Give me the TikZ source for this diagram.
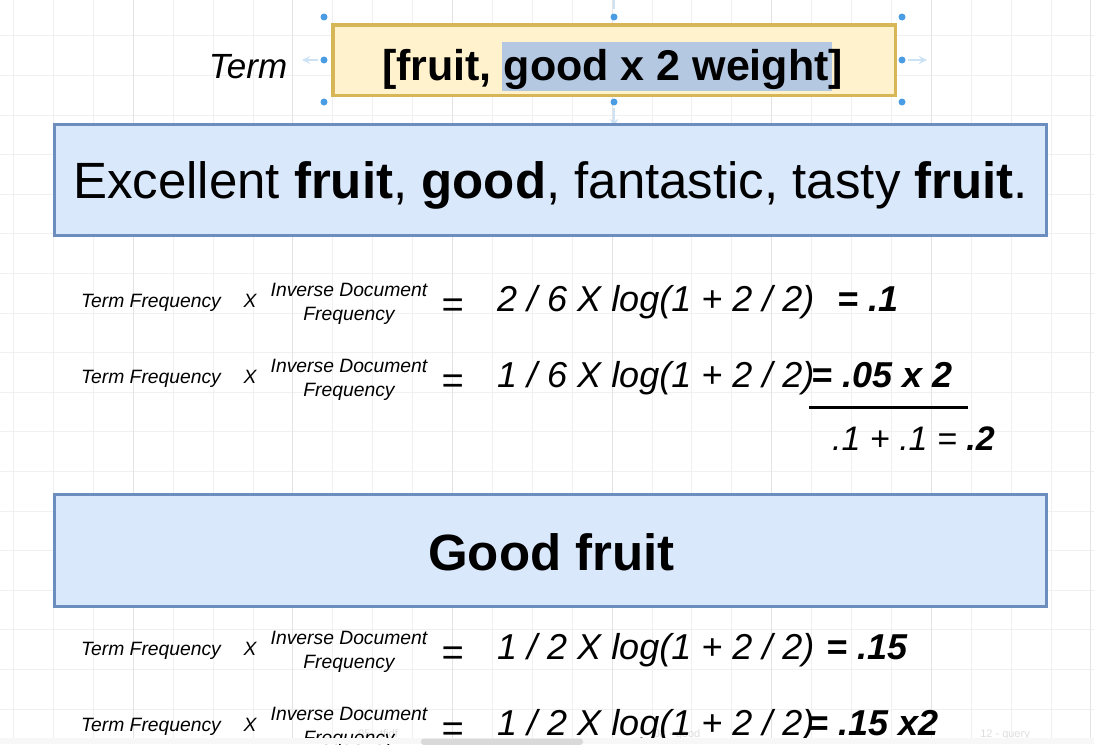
\documentclass[tikz,border=0pt]{standalone}
\usepackage{fontspec}
\setmainfont{Liberation Sans}
\definecolor{boxfill}{RGB}{218,232,252}
\definecolor{boxline}{RGB}{108,142,191}
\definecolor{termfill}{RGB}{255,242,204}
\definecolor{termline}{RGB}{214,182,86}
\definecolor{hilite}{RGB}{180,200,226}
\definecolor{handleblue}{RGB}{74,157,226}
\definecolor{hoverblue}{RGB}{204,226,245}
\begin{document}
\begin{tikzpicture}[x=1pt,y=-1pt,inner sep=0pt,
		minor line/.style = {draw=black!6,line width=0.8pt},
		major line/.style = {draw=black!11,line width=0.8pt},
		blue box/.style = {rectangle,draw=boxline,fill=boxfill,line width=3pt},
		term box/.style = {rectangle,draw=termline,fill=termfill,line width=3.5pt},
		big text/.style = {anchor=base,font=\fontsize{51}{60}\selectfont},
		small text/.style = {anchor=base,font=\itshape\fontsize{19.3}{23}\selectfont},
		eq text/.style = {anchor=base,font=\itshape\fontsize{38}{44}\selectfont},
		calc text/.style = {anchor=base west,font=\itshape\fontsize{36}{42}\selectfont},
		result/.style = {anchor=base west,font=\bfseries\itshape\fontsize{36}{42}\selectfont},
		tab label/.style = {anchor=base,text=black!13,font=\fontsize{11}{13}\selectfont},
		hover/.style = {draw=hoverblue,line width=2.5pt,-stealth}]
		
		\useasboundingbox (0,0) rectangle (1094,744);
		\fill[white] (0,0) rectangle (1094,744);
		
		% canvas grid
		\foreach \k in {0,...,27}
		\draw[minor line] (13.5+39.9*\k,0) -- ++(0,744);
		\foreach \k in {0,...,18}
		\draw[minor line] (0,35.7+39.6*\k) -- ++(1094,0);
		\foreach \k in {3,7,11,15,19,23,27}
		\draw[major line] (13.5+39.9*\k,0) -- ++(0,744);
		
		\node[tab label] at (378,737) (t5) {05 - tfidf};
		\node[tab label] at (677,737) (t8) {08 - good};
		\node[tab label] at (1005,737) (t12) {12 - query};
		
		% term
		\node[term box,minimum width=562.5,minimum height=70.5] at (614,60) (term) {};
		\node[rectangle,fill=hilite,minimum width=330,minimum height=49] at (667,66.5) (sel) {};
		\node[anchor=base,font=\bfseries\fontsize{43}{50}\selectfont] at (612.5,80) (terms) {[fruit, good x 2 weight]};
		\node[anchor=base,font=\itshape\fontsize{35}{42}\selectfont] at (248,78) (termlbl) {Term};
		
		\foreach \x/\y in {324/17,614/17,902/17,324/60,902/60,324/102,614/102,902/102}
		\fill[handleblue] (\x,\y) circle (3.5);
		\draw[hover] (318,60) -- (302,60);
		\draw[hover] (908,60) -- (927,60);
		\draw[hover,-] (614,0) -- (614,9);
		\draw[hover] (614,108) -- (614,127);
		
		% documents
		\node[blue box,minimum width=992,minimum height=111] at (550.5,180) (doc1) {};
		\node[big text] at (550.5,198) (doc1txt) {Excellent \textbf{fruit}, \textbf{good}, fantastic, tasty \textbf{fruit}.};
		\node[blue box,minimum width=992,minimum height=112] at (550.5,550.5) (doc2) {};
		\node[big text,font=\bfseries\fontsize{51}{60}\selectfont] at (551.5,570) (doc2txt) {Good fruit};
		
		% row 1
		\node[small text] at (151,307) (tf1) {Term Frequency};
		\node[small text] at (250,307) (x1) {X};
		\node[small text] at (349,296) (idf1) {Inverse Document};
		\node[small text] at (349,320) (idf1b) {Frequency};
		\node[eq text] at (453,317) (eq1) {=};
		\node[calc text] at (497,311) (calc1) {2 / 6 X log(1 + 2 / 2)};
		\node[result] at (837,311) (res1) {= .1};
		
		% row 2
		\node[small text] at (151,383) (tf2) {Term Frequency};
		\node[small text] at (250,383) (x2) {X};
		\node[small text] at (349,372) (idf2) {Inverse Document};
		\node[small text] at (349,396) (idf2b) {Frequency};
		\node[eq text] at (453,393) (eq2) {=};
		\node[calc text] at (497,387) (calc2) {1 / 6 X log(1 + 2 / 2)};
		\node[result] at (811,387) (res2) {= .05 x 2};
		
		\coordinate (s1) at (809,407.5);
		\coordinate (s2) at (968,407.5);
		\draw[line width=3.5pt] (s1) -- (s2);
		\node[calc text,font=\itshape\fontsize{34}{40}\selectfont] at (832,450) (sum) {.1 + .1 = \textbf{.2}};
		
		% row 3
		\node[small text] at (151,655) (tf3) {Term Frequency};
		\node[small text] at (250,655) (x3) {X};
		\node[small text] at (349,644) (idf3) {Inverse Document};
		\node[small text] at (349,668) (idf3b) {Frequency};
		\node[eq text] at (453,665) (eq3) {=};
		\node[calc text] at (497,659) (calc3) {1 / 2 X log(1 + 2 / 2)};
		\node[result] at (826,659) (res3) {= .15};
		
		% row 4
		\node[small text] at (151,731) (tf4) {Term Frequency};
		\node[small text] at (250,731) (x4) {X};
		\node[small text] at (349,720) (idf4) {Inverse Document};
		\node[small text] at (349,744) (idf4b) {Frequency};
		\node[eq text] at (453,741) (eq4) {=};
		\node[calc text] at (497,735) (calc4) {1 / 2 X log(1 + 2 / 2)};
		\node[result] at (807,735) (res4) {= .15 x2};
		
		% tab bar
		\fill[black!3] (0,737.5) rectangle (1094,744);
		\fill[black!15,rounded corners=3pt] (421,738.5) rectangle (583,745);
		\end{tikzpicture}
\end{document}
